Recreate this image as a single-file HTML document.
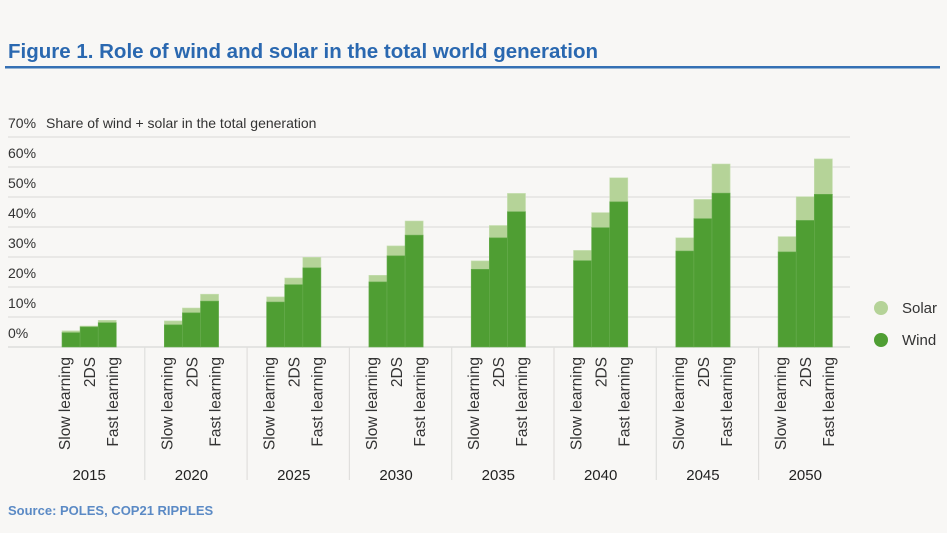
<!DOCTYPE html>
<html><head><meta charset="utf-8"><style>
body{margin:0;background:#f8f7f5;font-family:"Liberation Sans",sans-serif;}
svg{display:block}
</style></head><body>
<svg width="947" height="533">
<text x="8" y="58" font-size="20.5" font-weight="bold" fill="#2a68b0">Figure 1. Role of wind and solar in the total world generation</text>
<rect x="5" y="66" width="935" height="2.5" fill="#3570b4"/>
<g id="grid"></g>
<g id="bars"></g>
<g id="labels"></g>
<text x="46" y="128" font-size="14" fill="#333">Share of wind + solar in the total generation</text>
<circle cx="881" cy="308" r="7" fill="#b5d398"/>
<text x="902" y="313" font-size="15" fill="#333">Solar</text>
<circle cx="881" cy="340" r="7" fill="#4f9e33"/>
<text x="902" y="345" font-size="15" fill="#333">Wind</text>
<text x="8" y="515" font-size="13" font-weight="bold" fill="#5b8ac5">Source: POLES, COP21 RIPPLES</text>
</svg>
<script>
const years=["2015","2020","2025","2030","2035","2040","2045","2050"];
const scenarios=["Slow learning","2DS","Fast learning"];
const wind=[[4.8,6.7,8.1],[7.4,11.4,15.3],[15,20.8,26.4],[21.7,30.4,37.3],[25.9,36.4,45.1],[28.8,39.8,48.4],[32,42.8,51.3],[31.7,42.2,50.9]];
const total=[[5.4,7,8.9],[8.7,13,17.6],[16.7,23,29.9],[23.9,33.7,42],[28.7,40.5,51.2],[32.2,44.8,56.4],[36.4,49.2,61],[36.8,50.1,62.7]];
const yTicks=[0,10,20,30,40,50,60,70];
const NS="http://www.w3.org/2000/svg";
const base=347, pxPer=3;
function y(v){return base-v*pxPer;}
function gx(i){return 62+i*102.3;}
const bw=18.1;
const labelOff=[8,33,56];
function mk(tag,attrs,parent,txt){const e=document.createElementNS(NS,tag);for(const k in attrs)e.setAttribute(k,attrs[k]);if(txt!=null)e.textContent=txt;parent.appendChild(e);return e;}
const grid=document.getElementById('grid'),bars=document.getElementById('bars'),labels=document.getElementById('labels');
yTicks.forEach(t=>{
 const l=mk('line',{x1:8,x2:850,y1:y(t),y2:y(t),stroke:t===0?'#d8d8d8':'#e0dfdd','stroke-width':1.2},grid);
 
 
 const tx=mk('text',{x:8,y:y(t)-9,'font-size':14,fill:'#333'},grid,t+'%');
 
 
});
for(let i=1;i<years.length;i++){
 const x=gx(i)-19.5;
 const d=mk('line',{x1:x,x2:x,y1:base,y2:480,stroke:'#e0dfdd','stroke-width':1.2},grid);
 
 
}
years.forEach((yr,i)=>{
 scenarios.forEach((s,j)=>{
  const x=gx(i)+j*bw;
  const so=mk('rect',{x:x,y:y(total[i][j]),width:bw,height:(total[i][j]-wind[i][j])*pxPer,fill:'#b5d398',stroke:'#c9e0b3','stroke-width':0.6},bars);
  
  
  const w=mk('rect',{x:x,y:y(wind[i][j]),width:bw,height:wind[i][j]*pxPer,fill:'#4f9e33',stroke:'#6aad50','stroke-width':0.6},bars);
  
  
  const cx=gx(i)+labelOff[j];
  const t=mk('text',{x:0,y:0,'font-size':15.5,fill:'#333','text-anchor':'end',transform:'translate('+cx+',357) rotate(-90)'},labels,s);
  
  
 });
 const yt=mk('text',{x:gx(i)+bw*1.5,y:480,'font-size':15,fill:'#222','text-anchor':'middle'},labels,yr);
 
 
});
</script>
</body></html>
